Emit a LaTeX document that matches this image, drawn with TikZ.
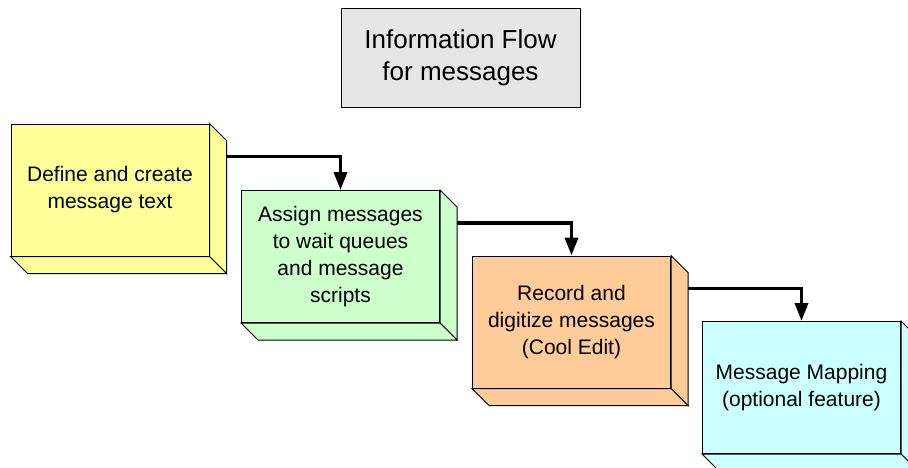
\documentclass[tikz,border=0pt]{standalone}
\usepackage{fontspec}
\setmainfont{Liberation Sans}
\usetikzlibrary{arrows.meta}
\definecolor{cyellow}{RGB}{255,255,153}
\definecolor{cgreen}{RGB}{204,255,204}
\definecolor{corange}{RGB}{255,204,153}
\definecolor{ccyan}{RGB}{204,255,255}
\definecolor{cgray}{RGB}{230,230,230}
\tikzset{
  stepbox/.style={draw=black, line width=1pt, minimum width=198pt, minimum height=132pt,
    inner sep=0pt, align=center, font=\fontsize{21}{27}\selectfont},
  titlebox/.style={draw=black, line width=1pt, fill=cgray, minimum width=239pt, minimum height=99pt,
    inner sep=0pt, align=center, font=\fontsize{26}{32}\selectfont},
  face/.style={draw=black, line width=1pt, line join=miter},
  flow/.style={line width=3.6pt, -{Triangle[length=18pt,width=13pt]}},
}
\newcommand\extrude[2]{%
  \filldraw[face, fill=#2] (#1.north east) -- ++(17,17) -- ([shift={(17,17)}]#1.south east) -- (#1.south east) -- cycle;
  \filldraw[face, fill=#2] (#1.south west) -- ++(17,17) -- ([shift={(17,17)}]#1.south east) -- (#1.south east) -- cycle;
}
\begin{document}
\begin{tikzpicture}[x=1pt,y=-1pt]
\useasboundingbox (0,0) rectangle (908,467);
\fill[white] (0,0) rectangle (908,467);
\clip (0,0) rectangle (908,467);

\node[titlebox] (title) at (460.5,57.5) {Information Flow\\for messages};

\node[stepbox, fill=cyellow] (b1) at (110,190) {Define and create\\message text};
\extrude{b1}{cyellow}
\node[stepbox, fill=cgreen] (b2) at (340.5,256.5) {Assign messages\\to wait queues\\and message\\scripts};
\extrude{b2}{cgreen}
\node[stepbox, fill=corange] (b3) at (571.5,322) {Record and\\digitize messages\\(Cool Edit)};
\extrude{b3}{corange}
\node[stepbox, fill=ccyan] (b4) at (801.5,387.5) {Message Mapping\\(optional feature)};
\extrude{b4}{ccyan}

\draw[flow] ([shift={(17,33)}]b1.north east) -| (b2.north);
\draw[flow] ([shift={(17,33)}]b2.north east) -| (b3.north);
\draw[flow] ([shift={(17,33)}]b3.north east) -| (b4.north);
\end{tikzpicture}
\end{document}
